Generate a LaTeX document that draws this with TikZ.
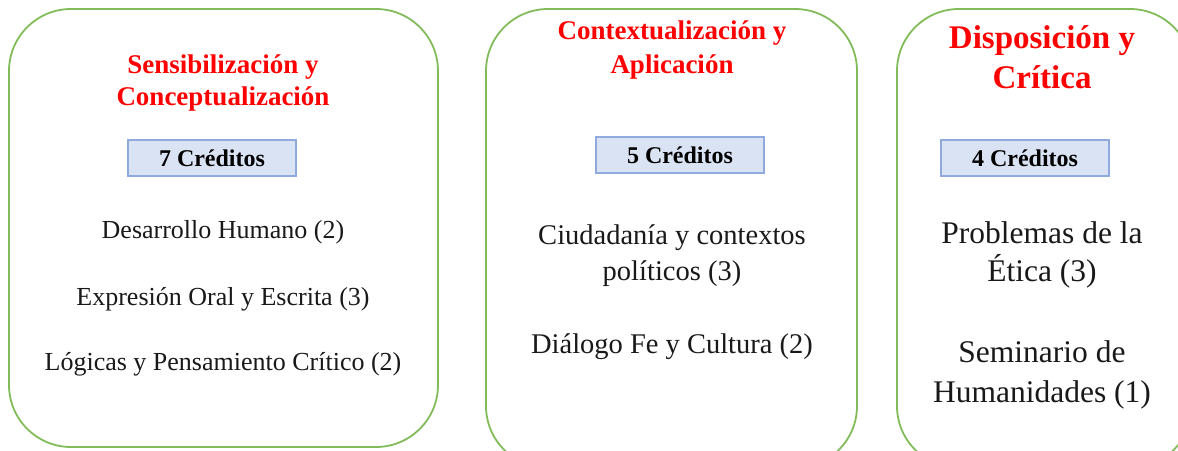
\documentclass[tikz,border=0pt]{standalone}
\usepackage{fontspec}
\setmainfont{Liberation Serif}
\definecolor{boxgreen}{RGB}{130,188,90}
\definecolor{credfill}{RGB}{218,227,243}
\definecolor{credline}{RGB}{143,170,220}
\definecolor{titlered}{RGB}{255,0,0}
\tikzset{
  phase/.style={draw=boxgreen, line width=1.8pt, rounded corners=62pt},
  credbox/.style={draw=credline, fill=credfill, line width=2.2pt, minimum width=168pt, minimum height=36pt, inner sep=0pt, font=\bfseries\fontsize{24}{26}\selectfont},
  ttl/.style={text=titlered, align=center, inner sep=0pt, font=\bfseries},
  body/.style={align=center, inner sep=0pt, text=black!90},
}
\begin{document}
\begin{tikzpicture}[x=1pt,y=-1pt]
\useasboundingbox (0,0) rectangle (1178,450);
\begin{scope}
\clip (0,0) rectangle (1178,450);
\draw[phase] (9,9) rectangle (438,447);
\draw[phase] (486,9) rectangle (857,468);
\draw[phase] (897,9) rectangle (1192,468);
\end{scope}
% box 1
\node[ttl, font=\bfseries\fontsize{27}{32}\selectfont] (t1) at (223,83) {Sensibilización y\\Conceptualización};
\node[credbox] (c1) at (212,158) {7 Créditos};
\node[body, font=\fontsize{26}{30}\selectfont] (a1) at (223,232) {Desarrollo Humano (2)};
\node[body, font=\fontsize{26}{30}\selectfont] (a2) at (223,299) {Expresión Oral y Escrita (3)};
\node[body, font=\fontsize{26}{30}\selectfont] (a3) at (223,364) {Lógicas y Pensamiento Crítico (2)};
% box 2
\node[ttl, font=\bfseries\fontsize{27}{34}\selectfont] (t2) at (672,50) {Contextualización y\\Aplicación};
\node[credbox] (c2) at (680,155) {5 Créditos};
\node[body, font=\fontsize{28.5}{36}\selectfont] (b1) at (672,256) {Ciudadanía y contextos\\políticos (3)};
\node[body, font=\fontsize{28.5}{32}\selectfont] (b2) at (672,347) {Diálogo Fe y Cultura (2)};
% box 3
\node[ttl, font=\bfseries\fontsize{33}{40}\selectfont] (t3) at (1042,57) {Disposición y\\Crítica};
\node[credbox] (c3) at (1025,158) {4 Créditos};
\node[body, font=\fontsize{31.5}{38}\selectfont] (d1) at (1042,255) {Problemas de la\\Ética (3)};
\node[body, font=\fontsize{31.5}{40}\selectfont] (d2) at (1042,375) {Seminario de\\Humanidades (1)};
\end{tikzpicture}
\end{document}
